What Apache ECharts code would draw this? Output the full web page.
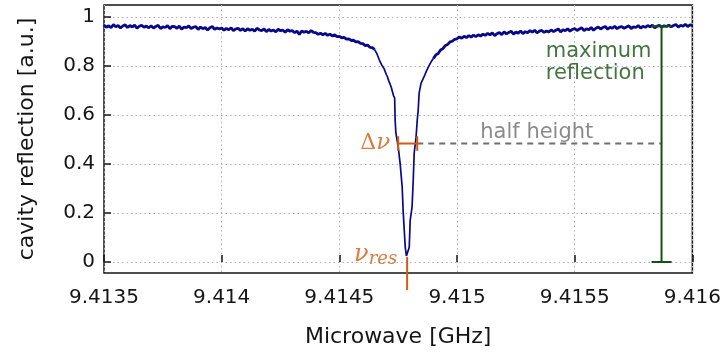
<!DOCTYPE html>
<html>
<head>
<meta charset="utf-8">
<script src="https://cdn.jsdelivr.net/npm/echarts@6/dist/echarts.min.js"></script>
<style>
  html, body { margin: 0; padding: 0; background: #fff; }
  #chart { width: 724px; height: 358px; }
</style>
</head>
<body>
<div id="chart"></div>
<script>
// left wing of the trace (GHz / a.u.)
const leftFreq = [
  9.4135, 9.41351, 9.41352, 9.41353, 9.41354, 9.41355, 9.41356, 9.41357, 9.41358, 9.41359,
  9.4136, 9.41361, 9.41362, 9.41363, 9.41364, 9.41365, 9.41366, 9.41367, 9.41368, 9.41369,
  9.4137, 9.41371, 9.41372, 9.41373, 9.41374, 9.41375, 9.41376, 9.41377, 9.41378, 9.41379,
  9.4138, 9.41381, 9.41382, 9.41383, 9.41384, 9.41385, 9.41386, 9.41387, 9.41388, 9.41389,
  9.4139, 9.41391, 9.41392, 9.41393, 9.41394, 9.41395, 9.41396, 9.41397, 9.41398, 9.41399,
  9.414, 9.41401, 9.41402, 9.41403, 9.41404, 9.41405, 9.41406, 9.41407, 9.41408, 9.41409,
  9.4141, 9.41411, 9.41412, 9.41413, 9.41414, 9.41415, 9.41416, 9.41417, 9.41418, 9.41419,
  9.4142, 9.41421, 9.41422, 9.41423, 9.41424, 9.41425, 9.41426, 9.41427, 9.41428, 9.41429,
  9.4143, 9.41431, 9.41432, 9.41433, 9.41434, 9.41435, 9.41436, 9.41437, 9.41438, 9.41439,
  9.4144, 9.41441, 9.41442, 9.41443, 9.41444, 9.41445, 9.41446, 9.41447, 9.41448, 9.41449,
  9.4145, 9.41451, 9.41452, 9.41453, 9.41454, 9.41455, 9.41456, 9.41457, 9.41458, 9.41459,
  9.4146, 9.41461, 9.41462, 9.41463, 9.41464, 9.41465
];
const leftRefl = [
  0.968, 0.959, 0.965, 0.957, 0.970, 0.961, 0.966, 0.956, 0.964, 0.969,
  0.958, 0.966, 0.960, 0.968, 0.955, 0.963, 0.967, 0.959, 0.964, 0.957,
  0.965, 0.956, 0.962, 0.967, 0.954, 0.961, 0.958, 0.966, 0.953, 0.963,
  0.962, 0.955, 0.964, 0.951, 0.960, 0.957, 0.965, 0.954, 0.959, 0.962,
  0.950, 0.960, 0.953, 0.958, 0.948, 0.957, 0.962, 0.951, 0.956, 0.952,
  0.956, 0.947, 0.954, 0.949, 0.957, 0.945, 0.952, 0.955, 0.946, 0.953,
  0.944, 0.953, 0.947, 0.951, 0.943, 0.955, 0.948, 0.945, 0.952, 0.941,
  0.950, 0.944, 0.948, 0.940, 0.951, 0.945, 0.947, 0.939, 0.949, 0.943,
  0.945, 0.937, 0.943, 0.930, 0.944, 0.939, 0.942, 0.936, 0.946, 0.938,
  0.937, 0.930, 0.935, 0.928, 0.934, 0.926, 0.931, 0.924, 0.928, 0.921,
  0.922, 0.916, 0.918, 0.911, 0.912, 0.905, 0.906, 0.899, 0.900, 0.893,
  0.892, 0.884, 0.886, 0.877, 0.876, 0.868
];

// resonance dip
const dipFreq = [
  9.41465, 9.41466, 9.41467, 9.41468, 9.41469, 9.4147, 9.414705, 9.41471, 9.41472, 9.41473,
  9.414735, 9.414737, 9.41474, 9.41475, 9.414758, 9.414767, 9.414771, 9.414775, 9.41478, 9.414785,
  9.414788, 9.414792, 9.414797, 9.414801, 9.414809, 9.414814, 9.414818, 9.414826, 9.414831, 9.414835,
  9.414839, 9.414847, 9.41486, 9.41487, 9.41488, 9.41489, 9.4149
];
const dipRefl = [
  0.868, 0.850, 0.825, 0.805, 0.790, 0.765, 0.755, 0.740, 0.716, 0.680,
  0.670, 0.580, 0.530, 0.470, 0.405, 0.307, 0.210, 0.143, 0.060, 0.025,
  0.020, 0.030, 0.060, 0.170, 0.225, 0.335, 0.445, 0.510, 0.580, 0.620,
  0.690, 0.730, 0.757, 0.780, 0.800, 0.818, 0.832
];

// right wing
const rightFreq = [
  9.4149, 9.41491, 9.41492, 9.41493, 9.41494, 9.41495, 9.41496, 9.41497, 9.41498, 9.41499,
  9.415, 9.41501, 9.41502, 9.41503, 9.41504, 9.41505, 9.41506, 9.41507, 9.41508, 9.41509,
  9.4151, 9.41511, 9.41512, 9.41513, 9.41514, 9.41515, 9.41516, 9.41517, 9.41518, 9.41519,
  9.4152, 9.41521, 9.41522, 9.41523, 9.41524, 9.41525, 9.41526, 9.41527, 9.41528, 9.41529,
  9.4153, 9.41531, 9.41532, 9.41533, 9.41534, 9.41535, 9.41536, 9.41537, 9.41538, 9.41539,
  9.4154, 9.41541, 9.41542, 9.41543, 9.41544, 9.41545, 9.41546, 9.41547, 9.41548, 9.41549,
  9.4155, 9.41551, 9.41552, 9.41553, 9.41554, 9.41555, 9.41556, 9.41557, 9.41558, 9.41559,
  9.4156, 9.41561, 9.41562, 9.41563, 9.41564, 9.41565, 9.41566, 9.41567, 9.41568, 9.41569,
  9.4157, 9.41571, 9.41572, 9.41573, 9.41574, 9.41575, 9.41576, 9.41577, 9.41578, 9.41579,
  9.4158, 9.41581, 9.41582, 9.41583, 9.41584, 9.41585, 9.41586, 9.41587, 9.41588, 9.41589,
  9.4159, 9.41591, 9.41592, 9.41593, 9.41594, 9.41595, 9.41596, 9.41597, 9.41598, 9.41599,
  9.416
];
const rightRefl = [
  0.832, 0.846, 0.852, 0.866, 0.872, 0.884, 0.889, 0.899, 0.902, 0.910,
  0.912, 0.920, 0.914, 0.922, 0.917, 0.925, 0.919, 0.927, 0.921, 0.928,
  0.923, 0.931, 0.926, 0.934, 0.928, 0.936, 0.925, 0.933, 0.938, 0.929,
  0.940, 0.932, 0.938, 0.943, 0.931, 0.939, 0.935, 0.944, 0.933, 0.941,
  0.937, 0.945, 0.939, 0.947, 0.936, 0.943, 0.946, 0.938, 0.944, 0.940,
  0.948, 0.941, 0.947, 0.952, 0.940, 0.949, 0.945, 0.953, 0.943, 0.950,
  0.954, 0.946, 0.952, 0.957, 0.945, 0.953, 0.949, 0.958, 0.947, 0.955,
  0.960, 0.952, 0.958, 0.962, 0.951, 0.959, 0.955, 0.963, 0.953, 0.960,
  0.962, 0.955, 0.960, 0.965, 0.954, 0.961, 0.958, 0.966, 0.956, 0.963,
  0.959, 0.966, 0.961, 0.968, 0.957, 0.964, 0.967, 0.960, 0.965, 0.962,
  0.968, 0.961, 0.966, 0.970, 0.960, 0.967, 0.963, 0.971, 0.962, 0.969,
  0.965
];

// annotations
const halfHeight = 0.484;
const deltaNu = [9.41475, 9.414831];
const halfLineEnd = 9.415869;
const resFreq = 9.414788;
const resTick = [0.02, -0.115];
const maxLineX = 9.415869;
const maxLine = [0, 0.963];
const yTicks = [0, 0.2, 0.4, 0.6, 0.8, 1];

const pairs = (xs, ys) => xs.map((f, i) => [f, ys[i]]);

const NAVY = '#08088a';
const ORANGE = '#cf5c12';
const GREEN = '#145214';
const GREY = '#6e6e6e';
const INK = '#151515';
const FONT = 'DejaVu Sans';
const capX = 0.0000424; // half width of green caps
const capY = 0.03;      // half height of orange caps

const seg = (pts, color, extra) => Object.assign({
  type: 'line', data: pts, showSymbol: false, silent: true, animation: false,
  lineStyle: { color: color, width: 2 }, z: 3
}, extra || {});

const textAt = (pt, label) => ({
  type: 'scatter', data: [pt], symbolSize: 0, silent: true, animation: false, z: 4,
  label: Object.assign({ show: true, fontFamily: FONT }, label)
});

const chart = echarts.init(document.getElementById('chart'));

chart.setOption({
  animation: false,
  grid: {
    left: 104, right: 30, top: 5, bottom: 85,
    show: true, borderColor: INK, borderWidth: 1.5, backgroundColor: '#fff'
  },
  xAxis: {
    type: 'value',
    min: 9.4135, max: 9.416, interval: 0.0005,
    name: 'Microwave [GHz]', nameLocation: 'middle', nameGap: 53,
    nameTextStyle: { fontFamily: FONT, fontSize: 22, color: INK },
    axisLine: { show: false },
    axisTick: { inside: true, length: 7, lineStyle: { color: INK, width: 1.5 } },
    axisLabel: {
      fontFamily: FONT, fontSize: 20, color: INK, margin: 15,
      formatter: v => String(+v.toFixed(4))
    },
    splitLine: { show: true, lineStyle: { color: '#b0b0b0', width: 1, type: [1.5, 3] } }
  },
  yAxis: {
    type: 'value',
    min: -0.045, max: 1.05,
    name: 'cavity reflection [a.u.]', nameLocation: 'middle', nameGap: 66,
    nameTextStyle: { fontFamily: FONT, fontSize: 22, color: INK },
    axisLine: { show: false },
    axisTick: { inside: true, length: 7, customValues: yTicks, lineStyle: { color: INK, width: 1.5 } },
    axisLabel: {
      fontFamily: FONT, fontSize: 20, color: INK, margin: 9, customValues: yTicks,
      formatter: v => String(+v.toFixed(1))
    },
    splitLine: { show: true, lineStyle: { color: '#b0b0b0', width: 1, type: [1.5, 3] } }
  },
  series: [
    {
      type: 'line', data: pairs(leftFreq, leftRefl), showSymbol: false, silent: true, z: 2,
      lineStyle: { color: NAVY, width: 2.8 }
    },
    {
      type: 'line', data: pairs(dipFreq, dipRefl), showSymbol: false, silent: true, z: 2,
      lineStyle: { color: NAVY, width: 1.7 }
    },
    {
      type: 'line', data: pairs(rightFreq, rightRefl), showSymbol: false, silent: true, z: 2,
      lineStyle: { color: NAVY, width: 2.8 }
    },
    // half height dashed line
    seg([[deltaNu[1], halfHeight], [halfLineEnd, halfHeight]], GREY,
      { lineStyle: { color: GREY, width: 2, type: [6, 5] } }),
    // delta nu bar with caps
    seg([[deltaNu[0], halfHeight], [deltaNu[1], halfHeight]], ORANGE),
    seg([[deltaNu[0], halfHeight - capY], [deltaNu[0], halfHeight + capY]], ORANGE),
    seg([[deltaNu[1], halfHeight - capY], [deltaNu[1], halfHeight + capY]], ORANGE),
    // resonance marker below the axis
    seg([[resFreq, resTick[0]], [resFreq, resTick[1]]], ORANGE, { clip: false }),
    // maximum reflection bar
    seg([[maxLineX, maxLine[0]], [maxLineX, maxLine[1]]], GREEN),
    seg([[maxLineX - capX, maxLine[0]], [maxLineX + capX, maxLine[0]]], GREEN),
    seg([[maxLineX - capX, maxLine[1]], [maxLineX + capX, maxLine[1]]], GREEN),
    // texts
    textAt([deltaNu[0], halfHeight], {
      position: 'left', distance: 8,
      formatter: '{d|Δ}{n|ν}',
      rich: {
        d: { fontFamily: 'DejaVu Serif', fontSize: 22, color: ORANGE },
        n: { fontFamily: 'DejaVu Serif', fontStyle: 'italic', fontSize: 23, color: ORANGE }
      }
    }),
    textAt([resFreq, 0.03], {
      position: 'left', distance: 10,
      formatter: '{n|ν}{s|res}',
      rich: {
        n: { fontFamily: 'DejaVu Serif', fontStyle: 'italic', fontSize: 24, color: ORANGE, lineHeight: 26 },
        s: { fontFamily: 'DejaVu Serif', fontStyle: 'italic', fontSize: 18, color: ORANGE, padding: [9, 0, 0, 0], lineHeight: 26 }
      }
    }),
    textAt([9.415339, 0.528], {
      position: 'inside', formatter: 'half height', fontSize: 21, color: GREY
    }),
    textAt([9.415377, 0.814], {
      position: 'right', distance: 0, formatter: 'maximum\nreflection',
      fontSize: 21, lineHeight: 22, color: GREEN, align: 'left'
    })
  ]
});
</script>
</body>
</html>
